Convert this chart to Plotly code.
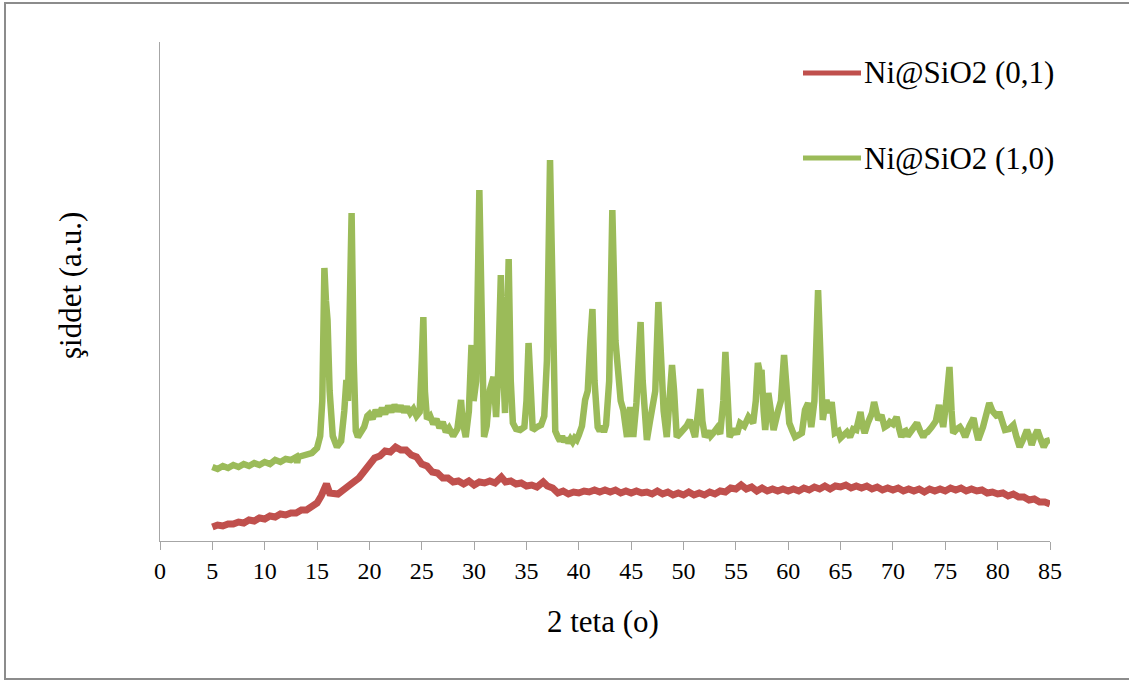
import plotly.graph_objects as go

# ---- data (2-theta in degrees, intensity in arbitrary units) ----
green_x = [5.0, 5.5, 6.0, 6.5, 7.0, 7.5, 8.0, 8.5, 9.0, 9.5, 10.0, 10.5, 11.0, 11.5, 12.0, 12.5,
           13.0, 13.1, 13.2, 13.5, 14.0, 14.5, 15.0, 15.3, 15.5, 15.7, 15.85, 16.0, 16.2, 16.5,
           16.9, 17.3, 17.6, 17.8, 17.95, 18.1, 18.3, 18.5, 18.7, 18.9, 19.2, 19.5, 19.8, 20.0,
           20.3, 20.6, 20.9, 21.2, 21.5, 21.8, 22.1, 22.4, 22.7, 23.0, 23.3, 23.6, 23.9, 24.2,
           24.5, 24.8, 25.0, 25.15, 25.3, 25.5, 25.8, 26.1, 26.4, 26.7, 27.0, 27.3, 27.6, 28.0,
           28.4, 28.75, 28.9, 29.2, 29.5, 29.75, 29.95, 30.2, 30.5, 30.7, 30.95, 31.2, 31.5,
           31.85, 32.1, 32.3, 32.55, 32.75, 32.95, 33.1, 33.3, 33.5, 33.7, 34.0, 34.4, 34.8,
           35.0, 35.2, 35.4, 35.6, 36.0, 36.4, 36.7, 36.95, 37.25, 37.5, 37.75, 38.0, 38.2,
           38.4, 38.6, 38.8, 39.0, 39.2, 39.4, 39.6, 39.8, 40.0, 40.3, 40.6, 40.85, 41.1, 41.3,
           41.5, 41.8, 42.0, 42.2, 42.4, 42.6, 42.9, 43.2, 43.5, 43.75, 44.0, 44.25, 44.6,
           44.9, 45.2, 45.5, 45.7, 45.9, 46.1, 46.5, 46.8, 47.1, 47.3, 47.6, 47.85, 48.1, 48.4,
           48.7, 48.9, 49.1, 49.35, 49.7, 50.0, 50.3, 50.6, 50.85, 51.1, 51.4, 51.6, 51.8,
           52.05, 52.4, 52.6, 52.85, 53.2, 53.5, 53.8, 54.0, 54.2, 54.4, 54.8, 55.1, 55.4,
           55.8, 56.2, 56.45, 56.65, 56.9, 57.1, 57.3, 57.45, 57.65, 57.8, 58.1, 58.35, 58.6,
           59.05, 59.3, 59.6, 59.85, 60.1, 60.4, 60.65, 61.0, 61.3, 61.6, 61.9, 62.2, 62.5,
           62.85, 63.05, 63.3, 63.5, 63.65, 63.9, 64.15, 64.45, 64.8, 65.0, 65.25, 65.6, 65.9,
           66.2, 66.5, 66.9, 67.1, 67.3, 67.6, 67.8, 68.0, 68.2, 68.4, 68.6, 68.9, 69.2, 69.5,
           69.7, 70.0, 70.35, 70.6, 70.8, 71.0, 71.2, 71.4, 71.6, 72.0, 72.3, 72.6, 72.9, 73.1,
           73.3, 73.7, 74.1, 74.4, 74.6, 74.8, 75.1, 75.4, 75.6, 75.75, 76.1, 76.4, 76.65,
           76.9, 77.3, 77.7, 77.9, 78.15, 78.6, 78.9, 79.2, 79.5, 79.75, 80.0, 80.15, 80.4,
           80.7, 81.1, 81.5, 81.8, 82.1, 82.5, 82.8, 83.05, 83.25, 83.5, 83.8, 84.1, 84.4,
           84.7, 85.0]
green_y = [74, 72, 75, 73, 76, 74, 77, 75, 78, 76, 79, 77, 81, 79, 82, 81,
           84, 78, 84, 85, 87, 88, 93, 105, 140, 273, 240, 221, 150, 105,
           94, 100, 130, 161, 140, 200, 328, 180, 110, 104, 109, 114, 125, 127,
           122, 131, 125, 133, 127, 135, 129, 136, 130, 135, 129, 134, 128, 132,
           125, 129, 180, 224, 150, 122, 125, 117, 122, 113, 119, 109, 113, 105,
           112, 141, 120, 104, 130, 196, 140, 160, 351, 200, 104, 115, 151,
           164, 124, 170, 266, 180, 128, 190, 282, 160, 118, 112, 111, 114,
           140, 198, 130, 111, 114, 116, 125, 180, 381, 230, 110, 104, 100,
           105, 99, 103, 98, 102, 99, 103, 101, 106, 115, 141, 150, 200, 232,
           160, 114, 110, 115, 109, 116, 160, 331, 200, 168, 140, 131, 104,
           134, 104, 138, 175, 219, 160, 101, 120, 144, 150, 239, 170, 130, 104,
           140, 176, 150, 104, 108, 111, 115, 121, 110, 104, 130, 152, 120,
           104, 110, 105, 108, 113, 107, 140, 189, 140, 104, 112, 107, 118,
           115, 124, 120, 118, 140, 178, 168, 171, 130, 111, 148, 125, 111,
           131, 140, 186, 140, 118, 110, 104, 106, 108, 131, 138, 114, 140,
           251, 180, 121, 135, 141, 128, 139, 108, 110, 103, 106, 109, 104,
           112, 111, 129, 115, 108, 118, 124, 128, 139, 125, 121, 126, 114, 116,
           119, 117, 124, 112, 104, 109, 110, 105, 108, 114, 118, 110, 104, 108,
           109, 114, 120, 136, 128, 114, 140, 174, 130, 108, 112, 114, 110,
           104, 115, 123, 112, 101, 114, 125, 138, 130, 128, 124, 129, 118,
           111, 112, 116, 104, 94, 103, 111, 104, 96, 104, 111, 102, 94,
           100, 101]

red_x = [5.0, 5.5, 6.0, 6.5, 7.0, 7.5, 8.0, 8.5, 9.0, 9.5, 10.0, 10.5, 11.0, 11.5, 12.0, 12.5,
         13.0, 13.5, 14.0, 14.5, 15.0, 15.4, 15.7, 15.9, 16.2, 16.6, 17.0, 17.5, 18.0, 18.5,
         19.0, 19.5, 20.0, 20.5, 21.0, 21.5, 22.0, 22.5, 23.0, 23.5, 24.0, 24.5, 25.0, 25.5,
         26.0, 26.5, 27.0, 27.5, 28.0, 28.5, 29.0, 29.5, 30.0, 30.5, 31.0, 31.5, 32.0, 32.6,
         33.0, 33.5, 34.0, 34.5, 35.0, 35.5, 36.0, 36.6, 37.0, 37.5, 38.0, 38.5, 39.0, 39.5,
         40.0, 40.5, 41.0, 41.5, 42.0, 42.5, 43.0, 43.5, 44.0, 44.5, 45.0, 45.5, 46.0, 46.5,
         47.0, 47.5, 48.0, 48.5, 49.0, 49.5, 50.0, 50.5, 51.0, 51.5, 52.0, 52.5, 53.0, 53.5,
         54.0, 54.5, 55.0, 55.5, 56.0, 56.5, 57.0, 57.5, 58.0, 58.5, 59.0, 59.5, 60.0, 60.5,
         61.0, 61.5, 62.0, 62.5, 63.0, 63.5, 64.0, 64.5, 65.0, 65.5, 66.0, 66.5, 67.0, 67.5,
         68.0, 68.5, 69.0, 69.5, 70.0, 70.5, 71.0, 71.5, 72.0, 72.5, 73.0, 73.5, 74.0, 74.5,
         75.0, 75.5, 76.0, 76.5, 77.0, 77.5, 78.0, 78.5, 79.0, 79.5, 80.0, 80.5, 81.0, 81.5,
         82.0, 82.5, 83.0, 83.5, 84.0, 84.5, 85.0]
red_y = [14, 16, 15, 17, 17, 19, 18, 21, 20, 23, 22, 25, 24, 27, 26, 28,
         28, 31, 31, 35, 38, 45, 55, 57, 48, 47, 47, 51, 54, 59,
         63, 70, 77, 83, 85, 90, 89, 94, 91, 91, 86, 84, 77, 75,
         69, 68, 63, 63, 59, 60, 57, 60, 56, 59, 58, 60, 58, 64,
         59, 60, 57, 58, 55, 56, 54, 59, 55, 53, 48, 50, 47, 49,
         48, 50, 49, 51, 49, 51, 49, 51, 48, 50, 48, 50, 48, 49,
         47, 50, 47, 49, 46, 48, 46, 49, 46, 48, 46, 49, 47, 50,
         49, 53, 52, 56, 52, 54, 50, 53, 50, 52, 50, 52, 50, 52,
         50, 53, 51, 54, 52, 55, 52, 55, 54, 56, 53, 55, 53, 55,
         52, 54, 51, 53, 51, 53, 50, 52, 50, 52, 49, 52, 50, 52,
         50, 53, 51, 53, 50, 52, 50, 51, 48, 49, 47, 48, 45, 47,
         44, 44, 41, 42, 39, 39, 37]

series_names = ["Ni@SiO2 (0,1)", "Ni@SiO2 (1,0)"]
x_ticks = [0, 5, 10, 15, 20, 25, 30, 35, 40, 45, 50, 55, 60, 65, 70, 75, 80, 85]
x_title = "2 teta (o)"
y_title = "şiddet (a.u.)"

# ---- style ----
RED = "#c0504d"
GREEN = "#9bbb59"
FONT = "Liberation Serif, Times New Roman, serif"
AXIS_GRAY = "#a6a6a6"
colors = [RED, GREEN]


def px(xp):
    return (xp - 160) / 890


def py(yp):
    return (541 - yp) / 499


fig = go.Figure()
fig.add_trace(go.Scatter(x=red_x, y=red_y, mode="lines", name=series_names[0],
                         line=dict(color=RED, width=7), showlegend=False))
fig.add_trace(go.Scatter(x=green_x, y=green_y, mode="lines", name=series_names[1],
                         line=dict(color=GREEN, width=6.5), showlegend=False))

# legend drawn as paper-anchored samples and labels
legend_rows = [73, 158]
shapes = [
    dict(type="rect", xref="paper", yref="paper",
         x0=px(5), x1=px(1140), y0=py(679), y1=py(3),
         line=dict(color="#8c8c8c", width=2), fillcolor="rgba(0,0,0,0)", layer="below"),
]
annotations = [
    dict(text=x_title, xref="paper", yref="paper", x=px(603), y=py(621),
         xanchor="center", yanchor="middle", showarrow=False,
         font=dict(family=FONT, size=31, color="#000000")),
    dict(text=y_title, xref="paper", yref="paper", x=px(70), y=py(286),
         xanchor="center", yanchor="middle", showarrow=False, textangle=-90,
         font=dict(family=FONT, size=31, color="#000000")),
]
for name, col, row in zip(series_names, colors, legend_rows):
    shapes.append(dict(type="line", xref="paper", yref="paper",
                       x0=px(803), x1=px(861), y0=py(row), y1=py(row),
                       line=dict(color=col, width=5)))
    annotations.append(dict(text=name, xref="paper", yref="paper", x=px(862), y=py(row),
                            xanchor="left", yanchor="middle", showarrow=False,
                            font=dict(family=FONT, size=31, color="#000000")))

fig.update_layout(
    width=1129, height=681,
    margin=dict(l=160, r=79, t=42, b=140),
    paper_bgcolor="white", plot_bgcolor="white",
    font=dict(family=FONT, color="#000000"),
    showlegend=False,
    xaxis=dict(range=[0, 85], tickvals=x_ticks, ticktext=[str(v) for v in x_ticks],
               showline=True, linecolor=AXIS_GRAY, linewidth=1, ticks="outside",
               ticklen=8, tickcolor=AXIS_GRAY, tickwidth=1, showgrid=False, zeroline=False,
               tickfont=dict(family=FONT, size=24, color="#000000")),
    yaxis=dict(range=[0, 499], showline=True, linecolor=AXIS_GRAY, linewidth=1,
               ticks="", showticklabels=False, showgrid=False, zeroline=False),
    annotations=annotations,
    shapes=shapes,
)

fig.write_html("out.html", config={"displayModeBar": False})
